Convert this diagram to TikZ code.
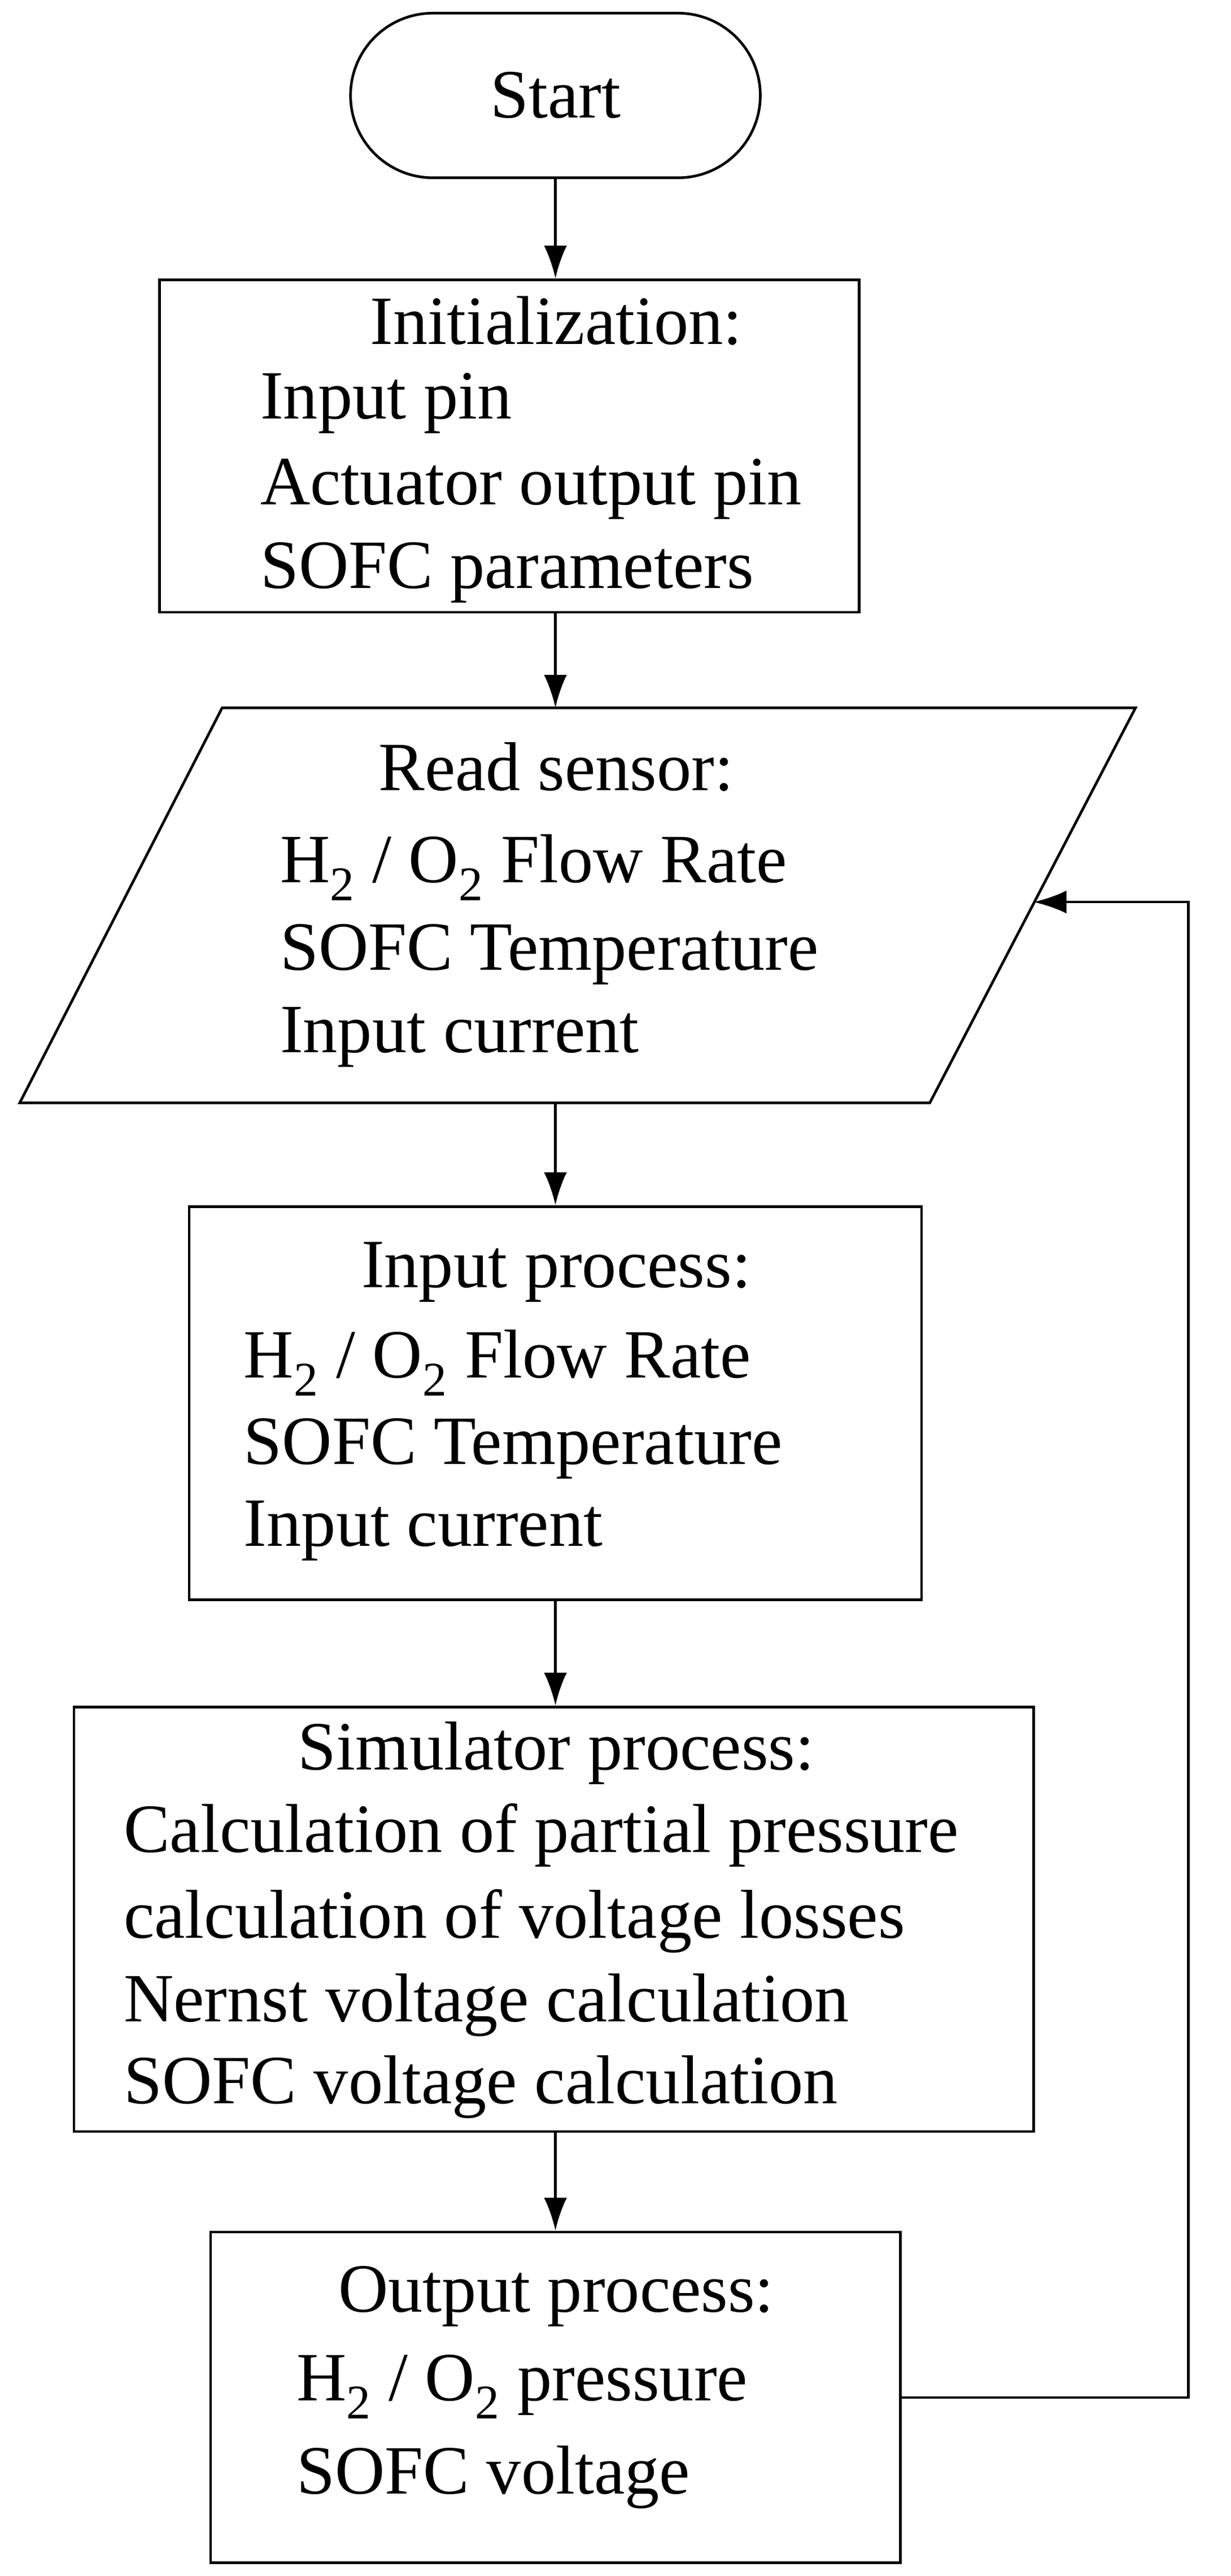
\documentclass[tikz,border=0pt]{standalone}
\usepackage{fontspec}
\setmainfont{Liberation Serif}
\usetikzlibrary{arrows.meta}
\begin{document}
\begin{tikzpicture}[x=1pt,y=1pt,
  box/.style={draw,line width=1.6pt,inner sep=0pt},
  txt/.style={font=\fontsize{42}{48}\selectfont,inner sep=0pt},
  lt/.style={txt,anchor=west},
  arr/.style={line width=1.6pt,-{Latex[length=20pt,width=14pt]}}]
\useasboundingbox (0,0) rectangle (748,-1565);
\node[box,rounded corners=50pt,minimum width=249pt,minimum height=100pt] (start) at (337.5,-58) {};
\node[txt] at (start) {Start};
\node[box,minimum width=425pt,minimum height=202pt] (init) at (309.5,-271) {};
\node[txt] at (338,-195) {Initialization:};
\node[lt] at (158,-245) {Input pin};
\node[lt] at (158,-297) {Actuator output pin};
\node[lt] at (158,-348) {SOFC parameters};
\coordinate (pt) at (337.5,-430);
\coordinate (pb) at (337.5,-670);
\coordinate (pr) at (628,-548);
\draw[line width=1.6pt] (135,-430) -- (690,-430) -- (565,-670) -- (12,-670) -- cycle;
\node[txt] at (338,-466) {Read sensor:};
\node[lt] at (170,-527) {H\textsubscript{2} / O\textsubscript{2} Flow Rate};
\node[lt] at (170,-580) {SOFC Temperature};
\node[lt] at (170,-630) {Input current};
\node[box,minimum width=445pt,minimum height=239pt] (inp) at (337.5,-852.5) {};
\node[txt] at (338,-773) {Input process:};
\node[lt] at (148,-828) {H\textsubscript{2} / O\textsubscript{2} Flow Rate};
\node[lt] at (148,-880) {SOFC Temperature};
\node[lt] at (148,-930) {Input current};
\node[box,minimum width=583pt,minimum height=258pt] (sim) at (336.5,-1166) {};
\node[txt] at (338,-1065) {Simulator process:};
\node[lt] at (75,-1115) {Calculation of partial pressure};
\node[lt] at (75,-1167) {calculation of voltage losses};
\node[lt] at (75,-1218) {Nernst voltage calculation};
\node[lt] at (75,-1268) {SOFC voltage calculation};
\node[box,minimum width=419pt,minimum height=201pt] (out) at (337.5,-1456.5) {};
\node[txt] at (338,-1395) {Output process:};
\node[lt] at (180,-1450) {H\textsubscript{2} / O\textsubscript{2} pressure};
\node[lt] at (180,-1505) {SOFC voltage};
\draw[arr] (start.south) -- (start.south |- init.north);
\draw[arr] (pt |- init.south) -- (pt);
\draw[arr] (pb) -- (pb |- inp.north);
\draw[arr] (pb |- inp.south) -- (pb |- sim.north);
\draw[arr] (pb |- sim.south) -- (pb |- out.north);
\coordinate (c1) at (722,-1456.5);
\coordinate (c2) at (722,-548);
\draw[arr] (out.east) -- (c1) -- (c2) -- (pr);
\end{tikzpicture}
\end{document}
